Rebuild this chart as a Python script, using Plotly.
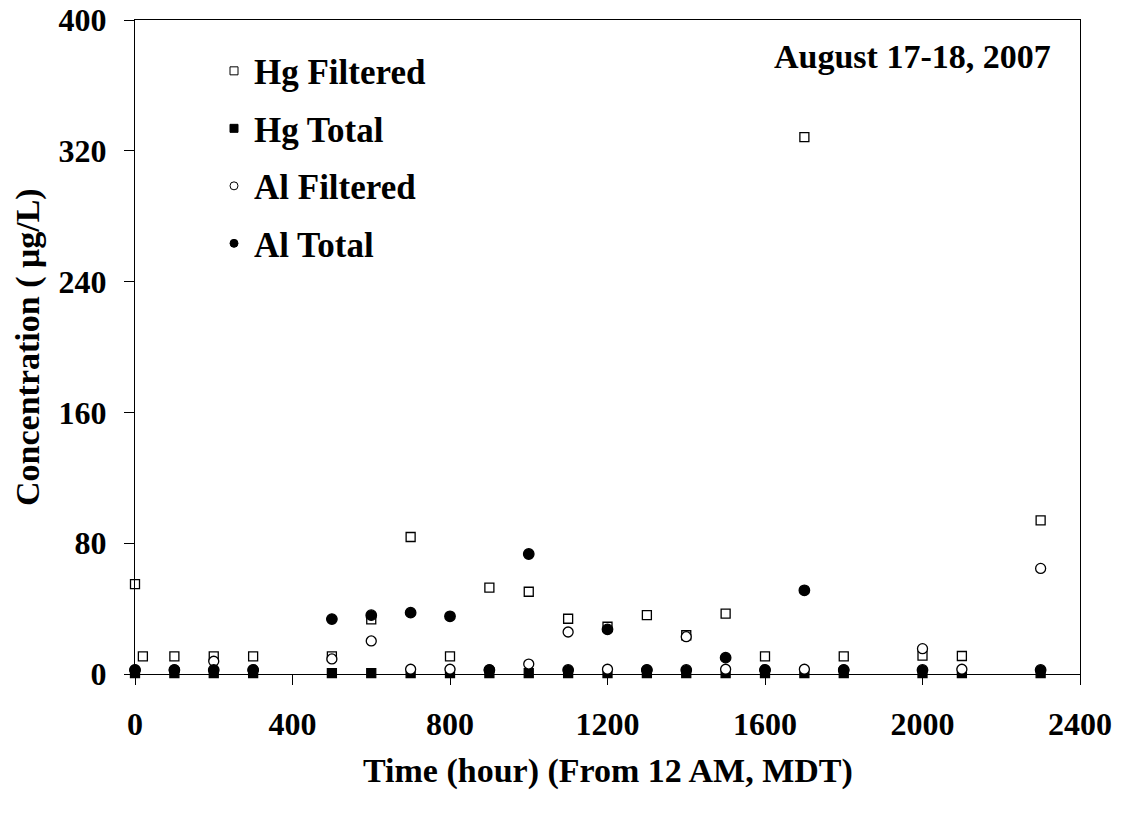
import plotly.graph_objects as go

# ---- data ----
hg_f_x = [0, 20, 100, 200, 300, 500, 600, 700, 800, 900, 1000, 1100, 1200, 1300, 1400, 1500, 1600, 1700, 1800, 2000, 2100, 2300]
hg_f_y = [55, 10.8, 10.8, 10.8, 10.8, 10.8, 33.4, 83.8, 10.8, 52.8, 50.3, 33.8, 28.9, 36, 23.7, 36.9, 10.8, 328.4, 10.8, 11.2, 11, 94]

hg_t_x = [0, 100, 200, 300, 500, 600, 700, 800, 900, 1000, 1100, 1200, 1300, 1400, 1500, 1600, 1700, 1800, 2000, 2100, 2300]
hg_t_y = [0.5] * len(hg_t_x)

al_f_x = [0, 100, 200, 300, 500, 600, 700, 800, 900, 1000, 1100, 1200, 1300, 1400, 1500, 1600, 1700, 1800, 2000, 2100, 2300]
al_f_y = [2.5, 2.5, 7.8, 2.5, 9.2, 20.2, 2.9, 2.9, 2.5, 6.1, 25.7, 2.9, 2.5, 22.8, 2.9, 2.5, 2.9, 2.5, 15.5, 2.9, 64.6]

al_t_x = [0, 100, 200, 300, 500, 600, 700, 800, 900, 1000, 1100, 1200, 1300, 1400, 1500, 1600, 1700, 1800, 2000, 2300]
al_t_y = [2.5, 2.5, 2.5, 2.5, 33.6, 36, 37.5, 35.3, 2.5, 73.4, 2.5, 27.3, 2.5, 2.5, 10, 2.5, 51.2, 2.5, 2.5, 2.5]

x_ticks = [0, 400, 800, 1200, 1600, 2000, 2400]
y_ticks = [0, 80, 160, 240, 320, 400]

series = [
    ("Hg Filtered", hg_f_x, hg_f_y, "square", "white", 9),
    ("Hg Total", hg_t_x, hg_t_y, "square", "black", 9),
    ("Al Filtered", al_f_x, al_f_y, "circle", "white", 10),
    ("Al Total", al_t_x, al_t_y, "circle", "black", 10.5),
]

FONT = "Liberation Serif"
fig = go.Figure()
for name, xs, ys, sym, fill, sz in series:
    fig.add_trace(go.Scatter(
        x=xs, y=ys, mode="markers", name=name, showlegend=False,
        cliponaxis=False,
        marker=dict(symbol=sym, size=sz, color=fill, line=dict(color="black", width=1.3)),
    ))
for name, xs, ys, sym, fill, sz in series:
    fig.add_trace(go.Scatter(
        x=[None], y=[None], mode="markers", name=name, legendgroup=name,
        marker=dict(symbol=sym, size=8, color=fill, line=dict(color="black", width=1)),
    ))

fig.update_layout(
    width=1121, height=819,
    margin=dict(l=135, r=41, t=20, b=145),
    paper_bgcolor="white", plot_bgcolor="white",
    font=dict(family=FONT, color="black", size=32),
    legend=dict(
        x=0.0836, y=0.967, xanchor="left", yanchor="top",
        font=dict(family=FONT, size=35, color="black", weight="bold"),
        tracegroupgap=9, bgcolor="rgba(0,0,0,0)", borderwidth=0,
    ),
    xaxis=dict(
        range=[0, 2400], tickvals=x_ticks, ticktext=[str(v) for v in x_ticks],
        ticks="outside", ticklen=10, tickwidth=1.3, tickcolor="black",
        showline=True, linecolor="black", linewidth=1.3, mirror=True,
        showgrid=False, zeroline=False, automargin=False,
        tickfont=dict(family=FONT, size=32, color="black", weight="bold"),
        ticklabelstandoff=11,
    ),
    yaxis=dict(
        range=[0, 400], tickvals=y_ticks, ticktext=[str(v) for v in y_ticks],
        ticks="outside", ticklen=10, tickwidth=1.3, tickcolor="black",
        showline=True, linecolor="black", linewidth=1.3, mirror=True,
        showgrid=False, zeroline=False, automargin=False,
        tickfont=dict(family=FONT, size=32, color="black", weight="bold"),
        ticklabelstandoff=11,
    ),
    annotations=[
        dict(text="Time (hour) (From 12 AM, MDT)", xref="paper", yref="paper",
             x=0.5, y=(674 - 771) / 654, xanchor="center", yanchor="middle", showarrow=False,
             font=dict(family=FONT, size=34, color="black", weight="bold")),
        dict(text="Concentration ( μg/L)", xref="paper", yref="paper",
             x=(28 - 135) / 945, y=0.5, xanchor="center", yanchor="middle", showarrow=False,
             textangle=-90, font=dict(family=FONT, size=34, color="black", weight="bold")),
        dict(text="August 17-18, 2007", xref="paper", yref="paper",
             x=(1053 - 135) / 945, y=(674 - 57) / 654, xanchor="right", yanchor="middle", showarrow=False,
             font=dict(family=FONT, size=34, color="black", weight="bold")),
    ],
)

fig.write_html("out.html")
